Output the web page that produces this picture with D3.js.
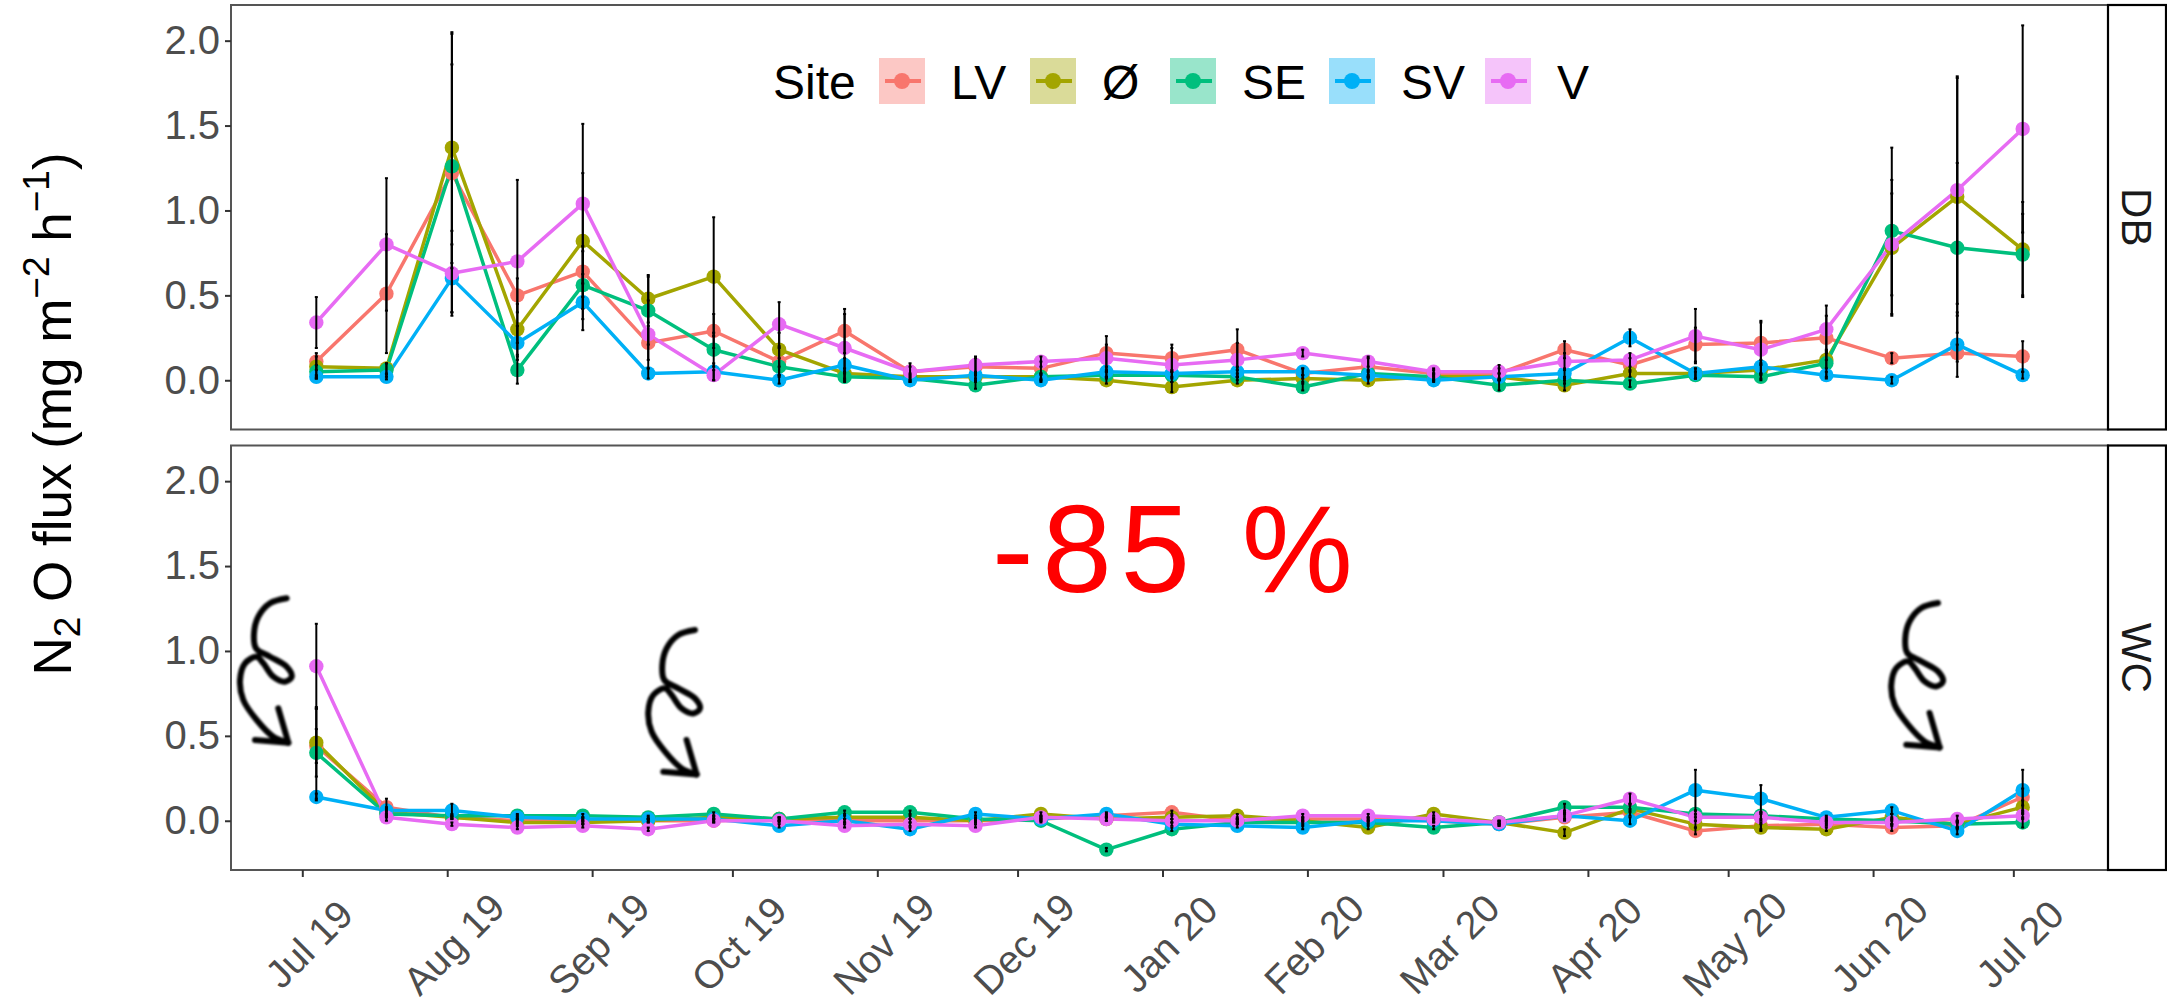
<!DOCTYPE html>
<html>
<head>
<meta charset="utf-8">
<script src="https://cdn.jsdelivr.net/npm/d3@7"></script>
<style>
  body { margin: 0; background: #fff; }
  svg { display: block; font-family: "Liberation Sans", Arial, sans-serif; }
</style>
</head>
<body>
<svg id="chart" width="2167" height="1007"></svg>
<script>
// ---- data ----------------------------------------------------------------
const sites = ["LV", "Ø", "SE", "SV", "V"];
const siteColors = ["#F8766D", "#A3A500", "#00BF7D", "#00B0F6", "#E76BF3"];
const facets = ["DB", "WC"];

const sampleDates = [
  "2019-07-04", "2019-07-19", "2019-08-02", "2019-08-16", "2019-08-30", "2019-09-13",
  "2019-09-27", "2019-10-11", "2019-10-25", "2019-11-08", "2019-11-22", "2019-12-06",
  "2019-12-20", "2020-01-03", "2020-01-17", "2020-01-31", "2020-02-14", "2020-02-28",
  "2020-03-13", "2020-03-27", "2020-04-10", "2020-04-24", "2020-05-08", "2020-05-22",
  "2020-06-05", "2020-06-19", "2020-07-03"
];
const monthTicks = [
  "2019-07-01", "2019-08-01", "2019-09-01", "2019-10-01", "2019-11-01", "2019-12-01",
  "2020-01-01", "2020-02-01", "2020-03-01", "2020-04-01", "2020-05-01", "2020-06-01", "2020-07-01"
];
const yTicks = [0, 0.5, 1.0, 1.5, 2.0];

// DB: mean N2O flux per site
const dbLV = [0.11, 0.51, 1.22, 0.50, 0.64, 0.22, 0.29, 0.11, 0.29, 0.05, 0.08, 0.07, 0.16, 0.13, 0.18, 0.04, 0.08, 0.04, 0.04, 0.18, 0.09, 0.21, 0.22, 0.25, 0.13, 0.16, 0.14];
const dbO  = [0.08, 0.07, 1.37, 0.30, 0.82, 0.48, 0.61, 0.18, 0.04, 0.02, 0.02, 0.02, 0.00, -0.04, 0.00, 0.01, 0.00, 0.02, 0.02, -0.03, 0.04, 0.04, 0.06, 0.12, 0.78, 1.08, 0.77];
const dbSE = [0.05, 0.06, 1.26, 0.06, 0.56, 0.41, 0.18, 0.08, 0.02, 0.01, -0.03, 0.02, 0.03, 0.03, 0.02, -0.04, 0.04, 0.02, -0.03, 0.00, -0.02, 0.03, 0.02, 0.10, 0.88, 0.78, 0.74];
const dbSV = [0.02, 0.02, 0.60, 0.22, 0.46, 0.04, 0.05, 0.00, 0.09, 0.00, 0.03, 0.00, 0.05, 0.04, 0.05, 0.05, 0.03, 0.00, 0.02, 0.04, 0.25, 0.04, 0.08, 0.03, 0.00, 0.21, 0.03];
const dbV  = [0.34, 0.80, 0.63, 0.70, 1.04, 0.27, 0.03, 0.33, 0.19, 0.05, 0.09, 0.11, 0.13, 0.09, 0.12, 0.16, 0.11, 0.05, 0.05, 0.11, 0.12, 0.26, 0.18, 0.30, 0.80, 1.12, 1.48];
// DB: standard errors
const dbLVse = [0.05, 0.35, 0.82, 0.10, 0.15, 0.10, 0.10, 0.08, 0.13, 0.03, 0.05, 0.04, 0.10, 0.08, 0.12, 0.03, 0.05, 0.02, 0.03, 0.05, 0.04, 0.10, 0.12, 0.13, 0.03, 0.05, 0.09];
const dbOse  = [0.06, 0.03, 0.68, 0.15, 0.40, 0.14, 0.35, 0.10, 0.03, 0.02, 0.02, 0.02, 0.02, 0.03, 0.02, 0.02, 0.02, 0.02, 0.02, 0.03, 0.02, 0.03, 0.03, 0.05, 0.40, 0.70, 0.28];
const dbSEse = [0.04, 0.04, 0.60, 0.08, 0.20, 0.20, 0.10, 0.05, 0.02, 0.02, 0.02, 0.02, 0.02, 0.02, 0.02, 0.02, 0.02, 0.02, 0.03, 0.02, 0.02, 0.02, 0.02, 0.08, 0.49, 0.50, 0.24];
const dbSVse = [0.01, 0.015, 0.20, 0.10, 0.165, 0.03, 0.05, 0.02, 0.04, 0.01, 0.02, 0.01, 0.03, 0.02, 0.03, 0.02, 0.02, 0.01, 0.02, 0.03, 0.05, 0.03, 0.04, 0.02, 0.02, 0.19, 0.02];
const dbVse  = [0.15, 0.39, 0.25, 0.48, 0.47, 0.20, 0.03, 0.13, 0.20, 0.05, 0.05, 0.03, 0.08, 0.10, 0.10, 0.02, 0.03, 0.02, 0.04, 0.05, 0.04, 0.16, 0.17, 0.14, 0.30, 0.67, 0.61];

// WC: mean N2O flux per site
const wcLV = [0.44, 0.08, 0.02, 0.00, 0.00, 0.00, 0.00, 0.01, 0.00, 0.00, 0.00, 0.01, 0.03, 0.05, 0.00, 0.01, 0.01, 0.00, -0.02, 0.02, 0.05, -0.06, -0.03, -0.02, -0.04, -0.03, 0.14];
const wcO  = [0.46, 0.05, 0.02, -0.01, -0.01, 0.00, 0.02, 0.01, 0.02, 0.02, 0.00, 0.04, 0.01, 0.02, 0.03, 0.00, -0.04, 0.04, -0.01, -0.07, 0.07, -0.02, -0.04, -0.05, 0.02, -0.02, 0.08];
const wcSE = [0.40, 0.04, 0.03, 0.03, 0.03, 0.02, 0.04, 0.01, 0.05, 0.05, 0.01, 0.00, -0.17, -0.05, -0.01, -0.01, -0.01, -0.04, -0.01, 0.08, 0.08, 0.04, 0.03, 0.01, 0.00, -0.02, -0.01];
const wcSV = [0.14, 0.06, 0.06, 0.02, 0.01, 0.01, 0.01, -0.03, 0.00, -0.05, 0.04, 0.01, 0.04, -0.02, -0.03, -0.04, 0.00, 0.00, -0.02, 0.03, 0.00, 0.18, 0.13, 0.02, 0.06, -0.06, 0.18];
const wcV  = [0.91, 0.02, -0.02, -0.04, -0.03, -0.05, 0.00, 0.00, -0.03, -0.02, -0.03, 0.02, 0.01, 0.00, 0.00, 0.03, 0.03, 0.01, -0.01, 0.03, 0.13, 0.02, 0.02, -0.01, -0.01, 0.01, 0.03];
// WC: standard errors
const wcLVse = [0.10, 0.05, 0.01, 0.01, 0.01, 0.01, 0.01, 0.01, 0.01, 0.01, 0.01, 0.01, 0.01, 0.01, 0.01, 0.01, 0.01, 0.01, 0.01, 0.02, 0.02, 0.02, 0.02, 0.01, 0.02, 0.02, 0.05];
const wcOse  = [0.20, 0.02, 0.01, 0.01, 0.01, 0.01, 0.01, 0.01, 0.01, 0.01, 0.01, 0.01, 0.01, 0.01, 0.01, 0.01, 0.01, 0.01, 0.01, 0.02, 0.02, 0.02, 0.02, 0.01, 0.02, 0.02, 0.04];
const wcSEse = [0.27, 0.02, 0.01, 0.01, 0.01, 0.01, 0.01, 0.01, 0.01, 0.01, 0.01, 0.01, 0.01, 0.01, 0.01, 0.01, 0.01, 0.01, 0.01, 0.02, 0.02, 0.02, 0.02, 0.01, 0.02, 0.02, 0.03];
const wcSVse = [0.02, 0.02, 0.04, 0.01, 0.01, 0.01, 0.01, 0.01, 0.01, 0.01, 0.01, 0.01, 0.01, 0.01, 0.01, 0.01, 0.01, 0.01, 0.01, 0.02, 0.02, 0.12, 0.08, 0.01, 0.02, 0.02, 0.12];
const wcVse  = [0.25, 0.02, 0.01, 0.01, 0.01, 0.01, 0.01, 0.01, 0.01, 0.01, 0.01, 0.01, 0.01, 0.01, 0.01, 0.01, 0.01, 0.01, 0.01, 0.02, 0.03, 0.02, 0.02, 0.01, 0.02, 0.02, 0.02];

const fluxByFacet = {
  DB: { means: [dbLV, dbO, dbSE, dbSV, dbV], errors: [dbLVse, dbOse, dbSEse, dbSVse, dbVse] },
  WC: { means: [wcLV, wcO, wcSE, wcSV, wcV], errors: [wcLVse, wcOse, wcSEse, wcSVse, wcVse] }
};

// hand-drawn curly arrow (relative stroke points) and where it is placed
const curlStroke = [
  [0, 0], [-16.7, 5], [-28.4, 18.4], [-32.7, 35], [-30.7, 50], [-16.7, 58.4], [0, 68.4],
  [5, 78.4], [-1.7, 83.4], [-13.4, 78.4], [-23.4, 65], [-30, 58.4], [-41.7, 65],
  [-46.7, 81.7], [-43.4, 101.7], [-30, 121.7], [-13.4, 138.4], [1.6, 144.4]
];
const curlHeadA = [[-31.7, 141.7], [1.6, 144.4]];
const curlHeadB = [[-8.4, 110], [1.6, 144.4]];
const curlAnchors = [[286.7, 598.3], [695, 630], [1938, 603]];

// ---- layout ----------------------------------------------------------------
const svg = d3.select("#chart");
const panelLeft = 231, panelRight = 2108, stripRight = 2166;
const panelTops = [5, 445.5];
const panelH = 424.5;
const yDomain = [-0.29, 2.21];

const parse = d3.utcParse("%Y-%m-%d");
const dates = sampleDates.map(parse);
const span = dates[dates.length - 1] - dates[0];
const x = d3.scaleUtc()
  .domain([new Date(+dates[0] - span * 0.05), new Date(+dates[dates.length - 1] + span * 0.05)])
  .range([panelLeft, panelRight]);

svg.append("rect").attr("width", 2167).attr("height", 1007).attr("fill", "#fff");

facets.forEach((facet, pi) => {
  const top = panelTops[pi];
  const y = d3.scaleLinear().domain(yDomain).range([top + panelH, top]);
  const g = svg.append("g").attr("class", "panel-" + facet);
  const fd = fluxByFacet[facet];

  const series = sites.map((s, i) => ({
    site: s, color: siteColors[i],
    values: dates.map((d, k) => ({ date: d, v: fd.means[i][k], se: fd.errors[i][k] }))
  }));

  const line = d3.line().x(d => x(d.date)).y(d => y(d.v));

  // lines
  g.selectAll("path.series").data(series).join("path")
    .attr("class", "series")
    .attr("d", s => line(s.values))
    .attr("fill", "none")
    .attr("stroke", s => s.color)
    .attr("stroke-width", 3.5)
    .attr("stroke-linejoin", "round");

  // points
  series.forEach(s => {
    g.append("g").selectAll("circle").data(s.values).join("circle")
      .attr("cx", d => x(d.date)).attr("cy", d => y(d.v))
      .attr("r", 7.2).attr("fill", s.color);
  });

  // error bars
  series.forEach(s => {
    const eb = g.append("g").attr("stroke", "#000").attr("stroke-width", 2);
    eb.selectAll("line.bar").data(s.values).join("line")
      .attr("class", "bar")
      .attr("x1", d => x(d.date)).attr("x2", d => x(d.date))
      .attr("y1", d => y(d.v - d.se)).attr("y2", d => y(d.v + d.se));
    eb.selectAll("line.capT").data(s.values).join("line")
      .attr("class", "capT")
      .attr("x1", d => x(d.date) - 1.5).attr("x2", d => x(d.date) + 1.5)
      .attr("y1", d => y(d.v + d.se)).attr("y2", d => y(d.v + d.se));
    eb.selectAll("line.capB").data(s.values).join("line")
      .attr("class", "capB")
      .attr("x1", d => x(d.date) - 1.5).attr("x2", d => x(d.date) + 1.5)
      .attr("y1", d => y(d.v - d.se)).attr("y2", d => y(d.v - d.se));
  });

  // panel border
  g.append("rect")
    .attr("x", panelLeft).attr("y", top)
    .attr("width", panelRight - panelLeft).attr("height", panelH)
    .attr("fill", "none").attr("stroke", "#555").attr("stroke-width", 2);

  // facet strip
  g.append("rect")
    .attr("x", panelRight).attr("y", top)
    .attr("width", stripRight - panelRight).attr("height", panelH)
    .attr("fill", "#fff").attr("stroke", "#000").attr("stroke-width", 2.2);
  g.append("text")
    .attr("transform", `translate(${(panelRight + stripRight) / 2}, ${top + panelH / 2}) rotate(90)`)
    .attr("text-anchor", "middle").attr("dy", "0.36em")
    .attr("font-size", 42).attr("fill", "#1A1A1A")
    .text(facet);

  // y axis
  const ya = g.append("g").attr("transform", `translate(${panelLeft},0)`)
    .call(d3.axisLeft(y).tickValues(yTicks).tickFormat(d3.format(".1f")).tickSize(6).tickPadding(5));
  ya.select(".domain").remove();
  ya.selectAll(".tick line").attr("stroke", "#333").attr("stroke-width", 2);
  ya.selectAll(".tick text")
    .attr("font-size", 40).attr("fill", "#4D4D4D")
    .attr("font-family", "Liberation Sans, Arial, sans-serif");
});

// x axis under the lower panel
const xa = svg.append("g").attr("transform", `translate(0,${panelTops[1] + panelH})`)
  .call(d3.axisBottom(x).tickValues(monthTicks.map(parse)).tickFormat(d3.utcFormat("%b %y")).tickSize(7));
xa.select(".domain").remove();
xa.selectAll(".tick line").attr("stroke", "#333").attr("stroke-width", 2);
xa.selectAll(".tick text")
  .attr("font-size", 39).attr("fill", "#4D4D4D")
  .attr("font-family", "Liberation Sans, Arial, sans-serif")
  .attr("y", 0).attr("dy", "0.35em")
  .attr("text-anchor", "middle")
  .attr("transform", "translate(6,74) rotate(-45)");

// y axis title
const yt = svg.append("text")
  .attr("transform", "translate(71,414) rotate(-90)")
  .attr("text-anchor", "middle").attr("font-size", 53).attr("fill", "#000");
yt.append("tspan").text("N");
yt.append("tspan").attr("font-size", 37).attr("dy", 9).text("2");
yt.append("tspan").attr("dy", -9).text(" O flux (mg m");
yt.append("tspan").attr("font-size", 37).attr("dy", -22).text("−2");
yt.append("tspan").attr("dy", 22).text(" h");
yt.append("tspan").attr("font-size", 37).attr("dy", -22).text("−1");
yt.append("tspan").attr("dy", 22).text(")");

// legend
const legend = svg.append("g").attr("class", "legend");
legend.append("text").attr("x", 773).attr("y", 99).attr("font-size", 48).attr("fill", "#000").text("Site");
const legendKeyX = [879, 1030, 1170, 1329, 1485];
const keySize = 46, keyTop = 58;
sites.forEach((s, i) => {
  const kx = legendKeyX[i];
  const item = legend.append("g");
  item.append("rect").attr("x", kx).attr("y", keyTop).attr("width", keySize).attr("height", keySize)
    .attr("fill", siteColors[i]).attr("fill-opacity", 0.4);
  item.append("line").attr("x1", kx + 6).attr("x2", kx + keySize - 4)
    .attr("y1", keyTop + keySize / 2).attr("y2", keyTop + keySize / 2)
    .attr("stroke", siteColors[i]).attr("stroke-width", 4);
  item.append("circle").attr("cx", kx + keySize / 2).attr("cy", keyTop + keySize / 2)
    .attr("r", 8).attr("fill", siteColors[i]);
  item.append("text").attr("x", kx + keySize + 26).attr("y", 99)
    .attr("font-size", 48).attr("fill", "#000").text(s);
});

// hand-written annotations
const defs = svg.append("defs");
defs.append("filter").attr("id", "ink")
  .attr("x", "-20%").attr("y", "-20%").attr("width", "140%").attr("height", "140%")
  .append("feGaussianBlur").attr("stdDeviation", 0.8);

const inkLine = d3.line().curve(d3.curveCatmullRom.alpha(0.5));
const notes = svg.append("g").attr("filter", "url(#ink)");
curlAnchors.forEach(([ax, ay]) => {
  const gA = notes.append("g").attr("transform", `translate(${ax},${ay})`)
    .attr("fill", "none").attr("stroke", "#000").attr("stroke-width", 6)
    .attr("stroke-linecap", "round").attr("stroke-linejoin", "round");
  gA.append("path").attr("d", inkLine(curlStroke));
  gA.append("path").attr("d", d3.line()(curlHeadA));
  gA.append("path").attr("d", d3.line()(curlHeadB));
});

svg.append("text")
  .attr("x", 992).attr("y", 592)
  .attr("font-size", 125).attr("fill", "#FF0000")
  .attr("font-family", "Liberation Sans Narrow, Liberation Sans, Arial, sans-serif")
  .attr("textLength", 361).attr("lengthAdjust", "spacing")
  .text("-85 %");
</script>
</body>
</html>
